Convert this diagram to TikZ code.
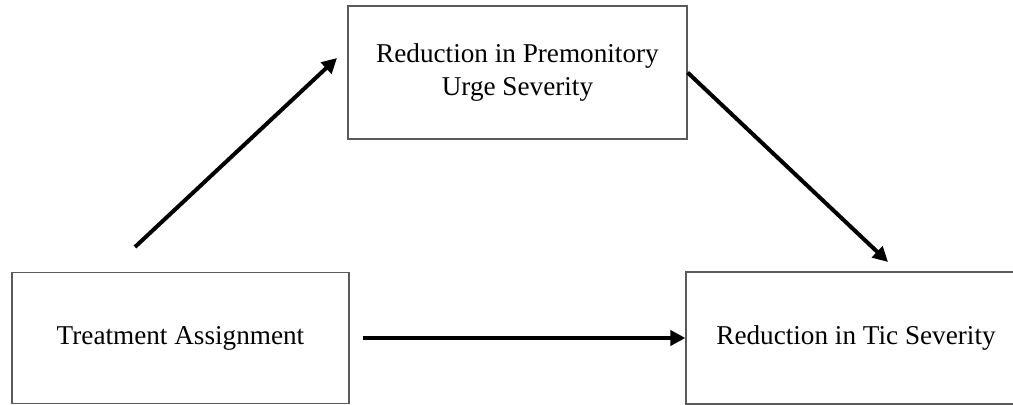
\documentclass[tikz,border=0pt]{standalone}
\usepackage{fontspec}
\setmainfont{Liberation Serif}
\usetikzlibrary{arrows.meta}
\definecolor{boxgray}{RGB}{90,90,90}

\begin{document}
\begin{tikzpicture}[x=0.5pt,y=-0.5pt,>={Triangle[length=7.5pt,width=7.5pt]},
  box/.style={draw=boxgray,line width=0.6pt,align=center,inner sep=0pt,font=\fontsize{13.6}{16.5}\selectfont},
  link/.style={->,line width=2pt}]
\useasboundingbox (0,0) rectangle (1013,405);
% the three variables
\node[box,minimum width=168.5pt,minimum height=65.5pt] (treat) at (180.5,338) {Treatment Assignment};
\node[box,minimum width=169.5pt,minimum height=66.5pt] (urge) at (517.5,72.5) {Reduction in Premonitory\\Urge Severity};
\node[box,minimum width=170pt,minimum height=66pt] (tic) at (856,338) {Reduction in Tic Severity};
% free ends of the paths
\coordinate (a1s) at (135,247);
\coordinate (a1e) at (337,58);
\coordinate (a2e) at (888,262);
% mediation paths
\draw[link] (a1s) -- (a1e);
\draw[link] (urge.east) -- (a2e);
\draw[link,shorten <=6.5pt] (treat.east) -- (tic.west);
\end{tikzpicture}
\end{document}
